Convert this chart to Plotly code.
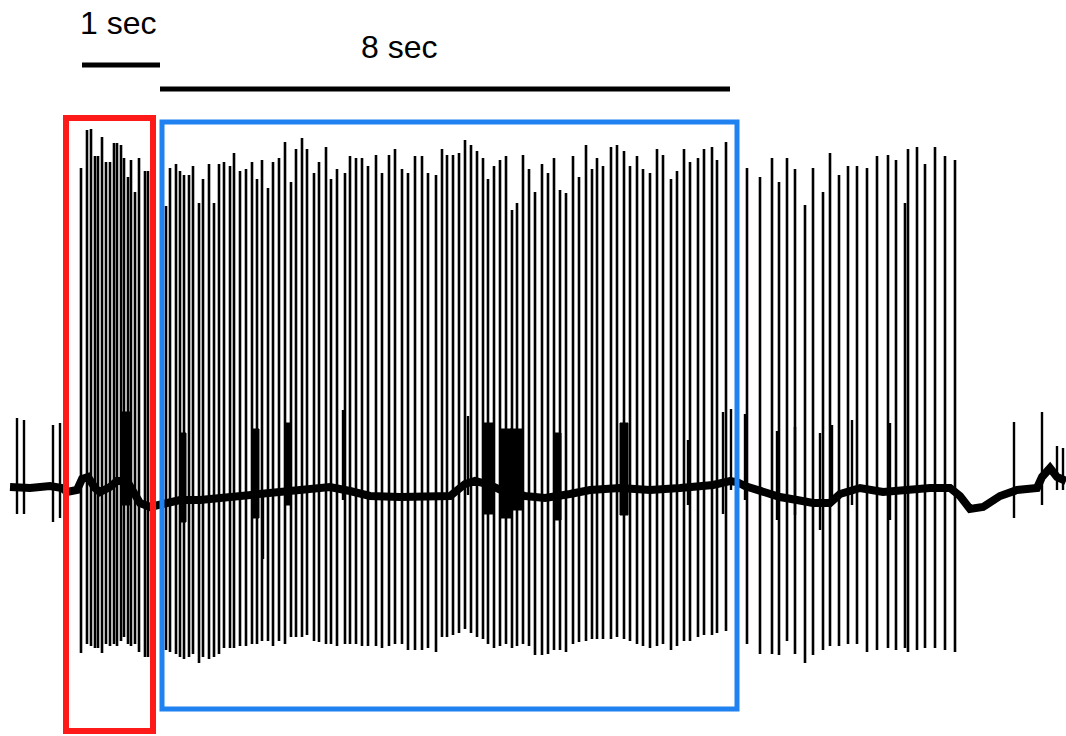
import plotly.graph_objects as go

# ---------------- data (time in px-units, amplitude in px-units, y grows downward) ----------------
spike_t = [81, 87, 91, 95, 98, 102, 106, 110, 114, 117, 121, 124, 128, 131, 135, 139, 145, 148,
           166, 170, 176, 180, 184, 189, 193, 199, 203, 209, 214, 219, 224, 230, 234, 240, 246, 252, 257, 262,
           268, 273, 279, 285, 291, 296, 302, 307, 314, 319, 326, 331, 337, 345, 350,
           356, 362, 368, 376, 382, 389, 395, 402, 408, 415, 422, 428, 436, 442, 447, 453, 459, 465, 471, 477,
           483, 488, 494, 500, 506, 512, 517,
           523, 529, 535, 542, 548, 554, 560, 566, 573, 579, 586, 592, 597, 603, 611, 617, 624, 630, 637, 643,
           650, 657, 663, 671, 677, 684, 690,
           698, 704, 712, 717, 726,
           747, 760, 772, 779, 787, 795, 805, 813, 823, 830, 839, 848, 857, 867, 877, 888, 896, 905, 908, 917,
           925, 935, 945, 955]
spike_peak = [168, 130, 129, 156, 156, 137, 162, 162, 143, 143, 145, 158, 177, 160, 192, 158, 171, 171,
              206, 168, 164, 171, 175, 175, 166, 203, 179, 164, 203, 164, 162, 166, 153, 171, 169, 162, 179, 160,
              188, 162, 158, 142, 182, 149, 138, 149, 173, 162, 147, 179, 169, 173, 156,
              158, 158, 166, 155, 173, 155, 149, 169, 173, 156, 156, 173, 175, 149, 155, 155, 153, 140, 145, 151,
              158, 179, 166, 160, 156, 210, 203,
              155, 169, 192, 164, 173, 158, 190, 193, 156, 177, 145, 169, 158, 166, 147, 145, 151, 166, 156, 169,
              173, 149, 155, 179, 171, 149, 162,
              158, 149, 147, 160, 142,
              168, 177, 158, 182, 158, 169, 205, 168, 192, 153, 175, 166, 166, 168, 156, 155, 160, 203, 149, 147,
              164, 147, 156, 160]
spike_trough = [653, 644, 646, 648, 648, 653, 644, 646, 644, 646, 641, 637, 644, 646, 644, 652, 657, 657,
                650, 652, 654, 657, 659, 657, 654, 663, 657, 659, 657, 654, 648, 648, 648, 646, 646, 644, 644, 641,
                641, 646, 641, 644, 637, 637, 637, 635, 641, 642, 644, 644, 646, 644, 644,
                644, 646, 646, 646, 648, 646, 644, 644, 650, 650, 650, 648, 652, 637, 637, 635, 633, 629, 633, 637,
                639, 644, 648, 646, 644, 648, 646,
                644, 646, 655, 655, 654, 650, 650, 652, 644, 642, 641, 639, 639, 639, 639, 637, 639, 641, 644, 646,
                648, 646, 644, 650, 646, 641, 641,
                637, 635, 635, 633, 631,
                644, 654, 654, 655, 641, 654, 663, 655, 650, 646, 646, 644, 644, 652, 650, 648, 650, 648, 652, 650,
                648, 648, 650, 652]

base_t = [10, 30, 50, 62, 67, 77, 82, 88, 95, 100, 110, 117, 127, 135, 140, 150, 160, 167, 180, 200, 230, 260,
          300, 330, 350, 370, 400, 430, 450, 465, 475, 490, 505, 525, 545, 570, 590, 620, 650, 680, 700, 713,
          730, 737, 745, 763, 780, 797, 813, 830, 840, 860, 883, 930, 950, 960, 970, 983, 1000, 1017, 1037,
          1042, 1050, 1057, 1066]
base_v = [487, 488, 486, 488, 492, 490, 479, 477, 488, 492, 487, 481, 481, 495, 503, 507, 505, 503, 500, 500,
          497, 495, 492, 487, 491, 496, 497, 496, 496, 484, 481, 485, 492, 496, 498, 494, 490, 488, 490, 488,
          487, 485, 481, 482, 486, 492, 497, 500, 503, 503, 494, 488, 492, 488, 488, 496, 509, 507, 496, 490,
          488, 477, 468, 477, 481]

short_t = [17, 24, 53, 60, 263, 343, 468, 688, 723, 731, 745, 777, 795, 820, 832, 852, 890, 1014, 1042, 1057, 1063]
short_top = [418, 420, 425, 423, 495, 410, 416, 440, 412, 409, 414, 431, 427, 433, 425, 420, 423, 422, 412, 446, 448]
short_bot = [514, 514, 522, 518, 559, 500, 495, 505, 514, 490, 500, 520, 515, 530, 500, 505, 520, 518, 505, 490, 490]

burst_start = [121, 180, 252, 285, 483, 500, 510, 555, 620]
burst_end = [131, 186, 259, 290, 494, 512, 522, 561, 628]
burst_top = [412, 433, 429, 423, 423, 429, 429, 433, 423]
burst_bot = [505, 522, 518, 505, 514, 518, 510, 520, 515]

scale_labels = ["1 sec", "8 sec"]
scale_start = [82, 160]
scale_end = [160, 730]
scale_level = [65, 89]
label_x = [118, 399]
label_level = [23, 47]

red_box = (66, 118, 153, 731)
blue_box = (162, 122, 737, 709)

# ---------------- figure ----------------
fig = go.Figure()

# spikes
sx, sy = [], []
for t, p, q in zip(spike_t, spike_peak, spike_trough):
    sx += [t, t, None]
    sy += [p, q, None]
fig.add_trace(go.Scatter(x=sx, y=sy, mode="lines", line=dict(color="black", width=2.6),
                         hoverinfo="skip", showlegend=False))

# short baseline deflections
hx, hy = [], []
for t, p, q in zip(short_t, short_top, short_bot):
    hx += [t, t, None]
    hy += [p, q, None]
fig.add_trace(go.Scatter(x=hx, y=hy, mode="lines", line=dict(color="black", width=2.4),
                         hoverinfo="skip", showlegend=False))

# bursts (dense blocks)
for a, b, tp, bt in zip(burst_start, burst_end, burst_top, burst_bot):
    fig.add_trace(go.Scatter(x=[a, b, b, a, a], y=[tp, tp, bt, bt, tp], mode="lines", fill="toself",
                             fillcolor="black", line=dict(color="black", width=1),
                             hoverinfo="skip", showlegend=False))

# baseline
fig.add_trace(go.Scatter(x=base_t, y=base_v, mode="lines", line=dict(color="black", width=8),
                         hoverinfo="skip", showlegend=False))

# scale bars
for lab, a, b, lv, lx, ll in zip(scale_labels, scale_start, scale_end, scale_level, label_x, label_level):
    fig.add_trace(go.Scatter(x=[a, b], y=[lv, lv], mode="lines", line=dict(color="black", width=5),
                             hoverinfo="skip", showlegend=False))
    fig.add_annotation(x=lx, y=ll, text=lab, showarrow=False,
                       font=dict(family="Liberation Sans, Arial", size=32, color="black"),
                       xanchor="center", yanchor="middle")

fig.add_shape(type="rect", x0=red_box[0], y0=red_box[1], x1=red_box[2], y1=red_box[3],
              line=dict(color="#ff1a1a", width=6), layer="above")
fig.add_shape(type="rect", x0=blue_box[0], y0=blue_box[1], x1=blue_box[2], y1=blue_box[3],
              line=dict(color="#1f82f0", width=5), layer="above")

fig.update_layout(width=1066, height=736, margin=dict(l=0, r=0, t=0, b=0),
                  paper_bgcolor="white", plot_bgcolor="white",
                  xaxis=dict(range=[0, 1066], visible=False, fixedrange=True),
                  yaxis=dict(range=[736, 0], visible=False, fixedrange=True))

fig.write_html("out.html")
